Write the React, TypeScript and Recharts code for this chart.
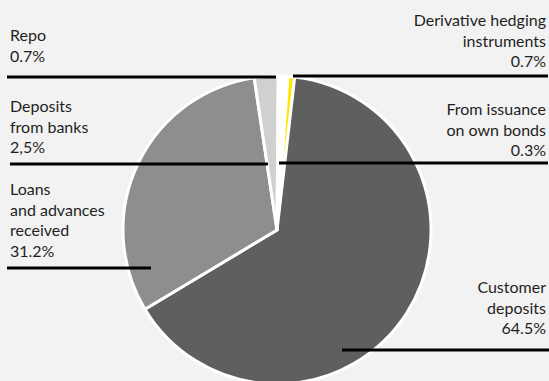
import * as React from "react";
import { PieChart, Pie, Cell } from "recharts";

// Slices, clockwise from the top
const NAMES: string[][] = [
  ["From issuance", "on own bonds"],
  ["Derivative hedging", "instruments"],
  ["Customer", "deposits"],
  ["Loans", "and advances", "received"],
  ["Deposits", "from banks"],
  ["Repo"],
];
const VALUES = [0.3, 0.7, 64.5, 31.2, 2.5, 0.7];
const VALUE_LABELS = ["0.3%", "0.7%", "64.5%", "31.2%", "2,5%", "0.7%"];
const COLORS = ["#ffffff", "#ffe600", "#5f5f5f", "#8e8e8e", "#d0d0d0", "#ffffff"];

// where each label block and its leader line sit
const LAYOUT = [
  { anchor: "end", x: 546, y: 115, lx1: 279, lx2: 548, ly: 163 },
  { anchor: "end", x: 546, y: 26, lx1: 293, lx2: 548, ly: 76 },
  { anchor: "end", x: 546, y: 293, lx1: 342, lx2: 549, ly: 350 },
  { anchor: "start", x: 10, y: 195, lx1: 7, lx2: 151, ly: 268 },
  { anchor: "start", x: 10, y: 112, lx1: 10, lx2: 268, ly: 164 },
  { anchor: "start", x: 10, y: 41, lx1: 7, lx2: 276, ly: 77 },
];

const data = VALUES.map((v, i) => ({ name: NAMES[i].join(" "), value: v }));

const LINE_H = 20.5;

function renderLabel(props: any) {
  const i = props.index as number;
  const l = LAYOUT[i];
  const lines = [...NAMES[i], VALUE_LABELS[i]];
  return (
    <g key={`lbl-${i}`}>
      <line x1={l.lx1} x2={l.lx2} y1={l.ly} y2={l.ly} stroke="#000" strokeWidth={3} />
      <text
        x={l.x}
        y={l.y}
        textAnchor={l.anchor as any}
        fill="#1f1f1f"
        fontSize={16}
        fontFamily="Lato, sans-serif"
      >
        {lines.map((t, k) => (
          <tspan key={k} x={l.x} y={l.y + k * LINE_H}>
            {t}
          </tspan>
        ))}
      </text>
    </g>
  );
}

export default function App() {
  return (
    <div
      style={{
        position: "absolute",
        left: 0,
        top: 0,
        width: 549,
        height: 381,
        background: "#f2f2f2",
        overflow: "hidden",
      }}
    >
      <PieChart width={549} height={381} margin={{ top: 0, right: 0, bottom: 0, left: 0 }}>
        <Pie
          data={data}
          dataKey="value"
          nameKey="name"
          cx={277}
          cy={230}
          outerRadius={154}
          startAngle={87}
          endAngle={-273}
          stroke="#ffffff"
          strokeWidth={3}
          label={renderLabel}
          labelLine={false}
          isAnimationActive={false}
        >
          {data.map((d, i) => (
            <Cell key={d.name} fill={COLORS[i]} />
          ))}
        </Pie>
      </PieChart>
    </div>
  );
}
